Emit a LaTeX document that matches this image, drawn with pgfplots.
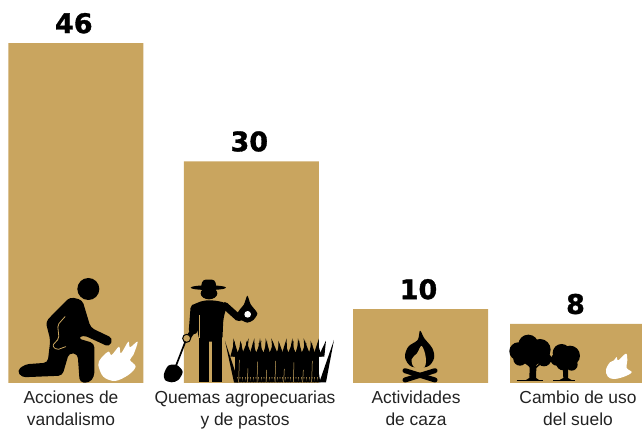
\documentclass[border=0pt]{standalone}
\usepackage{pgfplots}
\pgfplotsset{compat=1.18}
\usepackage{fontspec}
\setmainfont{Liberation Sans}
\newfontfamily\numfont[FakeBold=1.2]{DejaVu Sans Bold}
\definecolor{gold}{HTML}{C9A55F}
\definecolor{lab}{HTML}{222222}
\begin{document}
\begin{tikzpicture}[x=1pt,y=1pt]
\useasboundingbox (0,-47) rectangle (642,383);
\begin{axis}[
  at={(0,0)},anchor=south west,
  scale only axis,width=642pt,height=383pt,
  xmin=0,xmax=642,ymin=0,ymax=51.83,
  axis line style={draw=none},
  major tick style={draw=none},
  ymajorticks=false,
  xtick={71,245,416,578},
  xticklabels={Acciones de\\vandalismo,Quemas agropecuarias\\y de pastos,Actividades\\de caza,Cambio de uso\\del suelo},
  xticklabel style={align=center,font=\fontsize{17.4}{22}\selectfont,text=lab,anchor=north,yshift=-1pt,inner xsep=0pt,inner ysep=2pt},
  ybar,bar width=135pt,
  nodes near coords,
  /pgf/number format/assume math mode=true,
  every node near coord/.append style={font=\numfont\fontsize{27}{27}\selectfont,text=black,anchor=base,yshift=10pt,xshift=-2pt,inner sep=0pt},
]
\addplot[fill=gold,draw=none] coordinates {(75.8,46) (251.3,30) (420.5,10) (577.5,8)};
\end{axis}
% kneeling man
\begin{scope}[x=0.3333pt,y=-0.3333pt,shift={(15pt,108pt)}]
 \fill (220,42) circle (33);
 \fill[rounded corners=4pt] (165,66)--(202,75)--(227,158)--(294,190)--(283,216)--(205,180)--(188,190)--(238,205)--(238,305)--(222,324)--(194,322)--(188,237)--(162,234)--(142,302)--(20,307)--(6,287)--(30,268)--(98,263)--(106,195)--(92,140)--cycle;
 \draw[gold,line width=0.8pt,line cap=round,line join=round,rounded corners=2pt] (150,125)--(128,150)--(132,190)--(112,212)--(125,225)--(152,215);
 \fill[white] plot[smooth cycle,tension=0.55] coordinates {(250,270)(258,250)(280,230)(290,240)(312,215)(318,235)(340,200)(345,217)(368,200)(355,240)(345,255)(362,275)(340,300)(300,318)(265,305)};
\end{scope}
% farmer
\begin{scope}[x=0.3333pt,y=-0.3333pt,shift={(160pt,108pt)}]
 \fill (145,38) ellipse (53 and 7);
 \fill[rounded corners=3pt] (122,40)--(128,14)--(165,14)--(170,40)--cycle;
 \fill (147,55) ellipse (25 and 18);
 \fill[rounded corners=5pt] (92,92)--(130,76)--(165,76)--(203,85)--(190,130)--(187,200)--(118,200)--(108,140)--cycle;
 \fill (118,190) rectangle (148,320);
 \fill (155,190) rectangle (187,320);
 \draw[line width=9pt,line cap=round,line join=round] (105,100)--(100,165);
 \draw[line width=5pt,line cap=round,line join=round] (100,165)--(85,188);
 \draw[line width=7pt,line cap=round,line join=round] (195,92)--(235,128)--(262,120);
 \draw[gold,line width=0.7pt] (118,120)--(118,190);
 \draw[line width=1.7pt] (76,200)--(45,280);
 \draw[line width=1pt,fill=gold] (80,190) circle (12);
 \fill plot[smooth cycle,tension=0.5] coordinates {(12,297)(25,272)(50,270)(68,290)(55,315)(35,322)(15,315)};
 \fill plot[smooth cycle,tension=0.4] coordinates {(262,62)(272,88)(292,115)(280,135)(262,143)(240,132)(234,112)(252,88)};
 \fill[white] (263,118) circle (10);
 % grass
 \fill (226,232) rectangle (476,305);
 \foreach \x in {220,228,...,490}{
   \pgfmathsetmacro{\h}{190+mod(\x*7,21)}
   \pgfmathsetmacro{\l}{-14+mod(\x*13,29)}
   \fill (\x-9,245) -- (\x+\l,\h) -- (\x+9,245) -- cycle;
 }
 \foreach \x in {228,236,...,476}
   \fill (\x-5,322) -- (\x,290) -- (\x+5,322) -- cycle;
 \fill (222,322)--(195,198)--(236,322)--cycle;
 \fill (478,322)--(522,195)--(498,322)--cycle;
 \foreach \x/\t in {236/255,262/280,291/260,318/285,345/258,371/282,400/262,428/285,455/258}
   \draw[gold,line width=0.5pt] (\x,322)--(\x+2,\t);
\end{scope}
% campfire
\begin{scope}[x=0.3333pt,y=-0.3333pt,shift={(395pt,63pt)}]
 \fill plot[smooth cycle,tension=0.55] coordinates {(75,32)(88,55)(112,85)(117,115)(97,140)(50,140)(30,112)(40,80)(68,60)};
 \fill[gold] plot[smooth cycle,tension=0.6] coordinates {(80,78)(92,110)(88,142)(58,142)(50,118)(66,100)};
 \draw[line width=5pt,line cap=round] (30,180)--(120,152);
 \draw[line width=5pt,line cap=round] (30,152)--(120,180);
\end{scope}
% trees
\begin{scope}[x=0.3333pt,y=-0.3333pt,shift={(340pt,113.33pt)}]
 \foreach \c/\r in {{535,245}/27,{565,225}/30,{600,240}/32,{575,262}/28,{540,268}/20,{612,268}/22} \fill (\c) circle (\r);
 \foreach \c/\r in {{665,250}/27,{690,258}/30,{670,280}/22,{695,285}/18,{650,270}/18} \fill (\c) circle (\r);
 \fill (570,270)--(590,270)--(588,325)--(600,333)--(555,333)--(568,325)--cycle;
 \draw[line width=1.5pt] (578,300)--(550,268);
 \draw[line width=1.5pt] (580,300)--(615,270);
 \fill (668,285)--(685,285)--(684,325)--(698,333)--(655,333)--(670,325)--cycle;
 \draw[line width=1pt] (530,333)--(610,333);
 \draw[line width=1pt] (640,334)--(705,334);
 \fill[white] plot[smooth cycle,tension=0.6] coordinates {(798,300)(810,278)(822,272)(830,262)(835,272)(858,252)(862,272)(860,295)(875,308)(850,322)(820,328)(803,320)};
\end{scope}
\end{tikzpicture}
\end{document}
